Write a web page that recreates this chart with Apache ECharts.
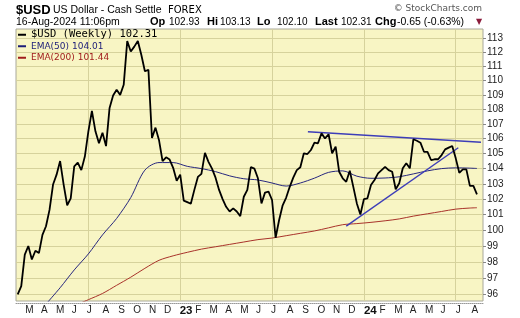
<!DOCTYPE html>
<html>
<head>
<meta charset="utf-8">
<script src="https://cdn.jsdelivr.net/npm/echarts@6/dist/echarts.min.js"></script>
<style>
html,body{margin:0;padding:0;background:#fff;}
#chart{width:520px;height:318px;}
</style>
</head>
<body>
<div id="chart"></div>
<script>
// ---- data (weekly closes, weeks starting Mon 14-Feb-2022 .. Mon 12-Aug-2024) ----
const firstWeek = '2022-02-14';
const usd = [96.0, 96.5, 98.45, 99.0, 98.15, 98.7, 98.55, 99.7, 100.25, 101.3,
 102.95, 103.6, 104.5, 102.95, 101.6, 102.05, 104.15, 104.4, 103.9, 104.8,
 106.5, 107.9, 106.5, 105.7, 106.4, 105.5, 108.1, 108.95, 109.35, 109.0,
 109.7, 112.8, 112.05, 112.4, 112.8, 111.8, 110.65, 110.75, 106.05, 106.75,
 105.9, 104.5, 104.75, 104.6, 104.05, 103.2, 103.6, 101.9, 101.8, 101.7,
 102.6, 103.45, 103.65, 105.05, 104.45, 104.0, 103.4, 102.6, 102.0, 101.5,
 101.2, 101.4, 101.2, 100.9, 102.15, 102.6, 104.1, 104.0, 103.36, 101.72,
 102.42, 102.48, 101.94, 99.52, 100.65, 101.6, 102.1, 102.8, 103.4, 103.9,
 104.09, 105.02, 104.97, 105.24, 105.73, 105.69, 106.36, 106.02, 106.3, 105.02,
 105.46, 103.79, 103.36, 103.13, 103.86, 102.8, 101.72, 101.0, 102.0, 102.05,
 102.92, 103.25, 103.68, 103.9, 104.12, 103.9, 103.79, 102.64, 103.03, 104.02,
 104.35, 104.02, 105.96, 105.86, 105.73, 105.12, 105.12, 104.57, 104.62, 104.62,
 104.9, 105.28, 105.4, 105.51, 104.68, 103.72, 103.95, 103.95, 102.86, 102.86,
 102.31];
const ema50Weeks = [8,12,16,20,24,28,32,36,40,44,48,52,56,60,64,68,72,76,80,84,88,92,96,100,104,108,112,116,120,124,128,130];
const ema50 = [95.4, 96.4, 97.5, 98.5, 99.7, 100.75, 102.1, 103.9, 104.4, 104.4, 104.15, 104.0, 103.8, 103.52, 103.33, 103.25, 103.05, 102.85, 103.05, 103.37, 103.75, 103.85, 103.5, 103.36, 103.38, 103.46, 103.65, 103.85, 104.0, 104.05, 104.03, 104.01];
const ema200Weeks = [16,20,24,28,32,36,40,44,48,52,56,60,64,68,72,76,80,84,88,92,96,100,104,108,112,116,120,124,128,130];
const ema200 = [95.3, 95.67, 96.05, 96.55, 97.05, 97.6, 98.1, 98.38, 98.6, 98.8, 98.95, 99.1, 99.25, 99.4, 99.5, 99.65, 99.8, 99.95, 100.15, 100.35, 100.42, 100.5, 100.6, 100.72, 100.9, 101.05, 101.2, 101.35, 101.42, 101.44];
const trendTop = [['2023-09-12', 106.47], ['2024-08-20', 105.76]];
const trendLow = [['2023-11-27', 100.26], ['2024-07-06', 105.39]];
const yTicks = [96,97,98,99,100,101,102,103,104,105,106,107,108,109,110,111,112,113];
const monthLetters = ['J','F','M','A','M','J','J','A','S','O','N','D'];
const gridDates = ['2022-07-04','2023-01-02','2023-07-03','2024-01-01','2024-07-01'];
const lastVals = {'$USD (Weekly)': '102.31', 'EMA(50)': '104.01', 'EMA(200)': '101.44'};

// ---- build ----
const DAY = 86400000;
const t0 = Date.parse(firstWeek + 'T00:00:00Z');
const weeks = usd.map((_, i) => t0 + i * 7 * DAY);
const usdData = usd.map((v, i) => [weeks[i], v]);
const ema50Data = ema50.map((v, i) => [weeks[ema50Weeks[i]], v]);
const ema200Data = ema200.map((v, i) => [weeks[ema200Weeks[i]], v]);
const toPts = arr => arr.map(p => [Date.parse(p[0] + 'T00:00:00Z'), p[1]]);
const monthStarts = [];
for (let y = 2022; y <= 2024; y++) {
  for (let m = 0; m < 12; m++) {
    const t = Date.UTC(y, m, 1);
    if (t >= Date.UTC(2022, 2, 1) && t <= Date.UTC(2024, 7, 1)) monthStarts.push(t);
  }
}
const gridTicks = gridDates.map(d => Date.parse(d + 'T00:00:00Z'));

const chart = echarts.init(document.getElementById('chart'), null, {renderer: 'canvas'});
const sans = 'Liberation Sans, Arial, sans-serif';
const hdr = (x, y, text, opt) => ({
  type: 'text', x: x, y: y,
  style: Object.assign({text: text, fill: '#000', font: '10px ' + sans, textVerticalAlign: 'middle'}, opt || {})
});

chart.setOption({
  animation: false,
  backgroundColor: '#fff',
  grid: {left: 16, right: 37, top: 29, bottom: 17, show: true, backgroundColor: '#f8f5c4', borderColor: '#a8a89a', borderWidth: 1},
  xAxis: {
    type: 'value',
    scale: true,
    min: Date.UTC(2022, 1, 10, 14),
    max: Date.UTC(2024, 7, 24),
    offset: 2,
    axisLine: {show: true, onZero: false, lineStyle: {color: '#999', type: 'dotted', width: 1}},
    axisTick: {show: false, customValues: gridTicks},
    splitLine: {show: true, lineStyle: {color: '#d6d29c', width: 1}},
    axisLabel: {
      customValues: monthStarts,
      hideOverlap: false,
      align: 'left',
      margin: 2,
      color: '#222',
      fontFamily: sans,
      fontSize: 10,
      formatter: function (v) {
        const d = new Date(v);
        const m = d.getUTCMonth();
        if (m === 0) return '{y|' + String(d.getUTCFullYear()).slice(2) + '}';
        return '{m|' + monthLetters[m] + '}';
      },
      rich: {
        y: {fontWeight: 'bold', fontSize: 11.5, color: '#111', fontFamily: sans},
        m: {fontSize: 10, color: '#222', fontFamily: sans}
      }
    }
  },
  yAxis: {
    type: 'log',
    logBase: 10,
    position: 'right',
    min: 95.59,
    max: 113.67,
    axisLine: {show: false},
    axisTick: {show: true, length: 3, customValues: yTicks, lineStyle: {color: '#888'}},
    splitLine: {show: true, lineStyle: {color: '#d6d29c', width: 1}},
    axisLabel: {
      customValues: yTicks,
      margin: 4,
      color: '#222',
      fontFamily: sans,
      fontSize: 10,
      formatter: v => String(Math.round(v))
    }
  },
  legend: {
    orient: 'vertical',
    left: 18,
    top: 29,
    padding: 0,
    itemGap: 0,
    itemWidth: 8,
    itemHeight: 2,
    icon: 'rect',
    selectedMode: false,
    formatter: name => name + ' ' + lastVals[name],
    data: [
      {name: '$USD (Weekly)', textStyle: {fontFamily: 'DejaVu Sans Mono, monospace', fontSize: 10.5, color: '#000', lineHeight: 11.5}},
      {name: 'EMA(50)', textStyle: {fontFamily: 'DejaVu Sans, sans-serif', fontSize: 9, color: '#1c1c78', lineHeight: 11.5}},
      {name: 'EMA(200)', textStyle: {fontFamily: 'DejaVu Sans, sans-serif', fontSize: 9, color: '#a01c1c', lineHeight: 11.5}}
    ]
  },
  series: [
    {name: 'EMA(200)', type: 'line', data: ema200Data, showSymbol: false, smooth: 0.3, clip: true,
     lineStyle: {color: '#a8322a', width: 1}, itemStyle: {color: '#a01c1c'}, z: 2},
    {name: 'EMA(50)', type: 'line', data: ema50Data, showSymbol: false, smooth: 0.3, clip: true,
     lineStyle: {color: '#26267e', width: 1}, itemStyle: {color: '#1c1c78'}, z: 2},
    {name: 'trendTop', type: 'line', data: toPts(trendTop), showSymbol: false,
     lineStyle: {color: '#3d3db8', width: 1.4}, z: 3},
    {name: 'trendLow', type: 'line', data: toPts(trendLow), showSymbol: false,
     lineStyle: {color: '#3d3db8', width: 1.4}, z: 3},
    {name: '$USD (Weekly)', type: 'line', data: usdData, showSymbol: false, clip: true,
     lineStyle: {color: '#000', width: 1.8}, itemStyle: {color: '#000'}, z: 4}
  ],
  graphic: [
    hdr(16, 10, '$USD', {font: 'bold 13px ' + sans}),
    hdr(53, 10, 'US Dollar - Cash Settle', {font: '10.5px ' + sans}),
    hdr(168, 10.5, 'FOREX', {font: '10px DejaVu Sans, sans-serif'}),
    hdr(482, 9, '\u00A9 StockCharts.com', {font: '9px DejaVu Sans, sans-serif', fill: '#555', textAlign: 'right'}),
    hdr(16, 22, '16-Aug-2024 11:06pm', {font: '10.5px ' + sans}),
    hdr(150, 22, 'Op', {font: 'bold 11px ' + sans}),
    hdr(169, 22, '102.93'),
    hdr(207, 22, 'Hi', {font: 'bold 11px ' + sans}),
    hdr(220, 22, '103.13'),
    hdr(257, 22, 'Lo', {font: 'bold 11px ' + sans}),
    hdr(277, 22, '102.10'),
    hdr(315, 22, 'Last', {font: 'bold 11px ' + sans}),
    hdr(341, 22, '102.31'),
    hdr(375, 22, 'Chg', {font: 'bold 11px ' + sans}),
    hdr(397, 22, '-0.65 (-0.63%)', {font: '10.5px ' + sans}),
    hdr(476, 22, '\u25BC', {font: '8px DejaVu Sans, sans-serif', fill: '#8b1c3c'})
  ]
});
</script>
</body>
</html>
